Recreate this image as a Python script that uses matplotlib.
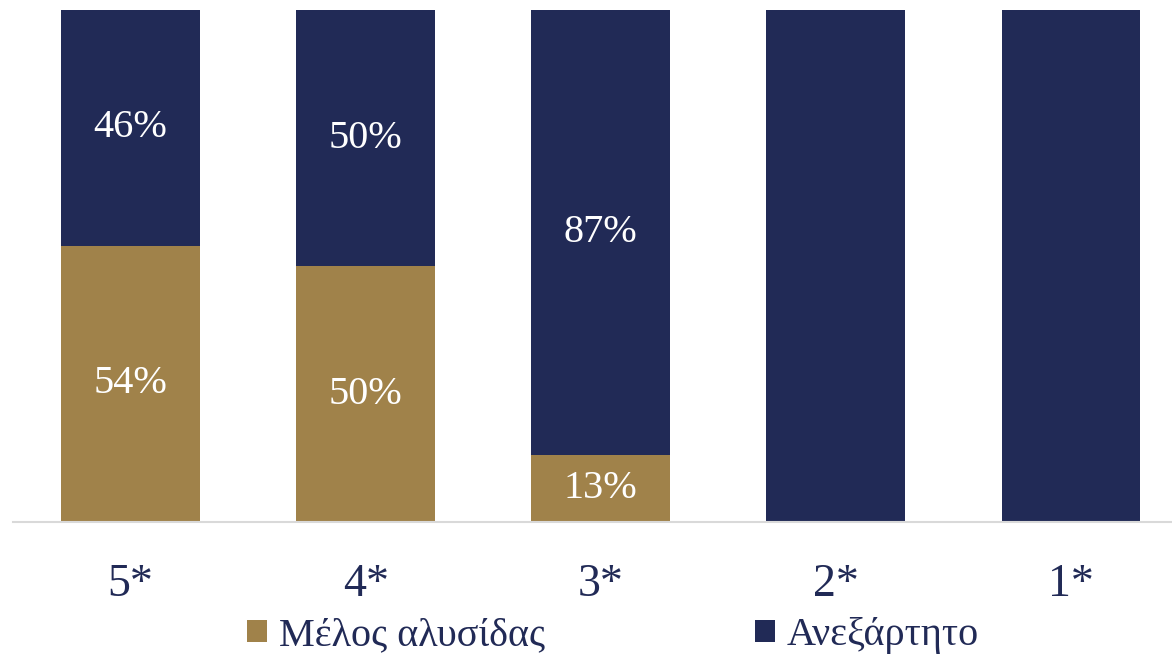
import matplotlib.pyplot as plt
import numpy as np

categories = ["5*", "4*", "3*", "2*", "1*"]
chain = [54, 50, 13, 0, 0]
independent = [46, 50, 87, 100, 100]
series_names = ["Μέλος αλυσίδας", "Ανεξάρτητο"]

gold = "#A0824A"
navy = "#212A56"

plt.rcParams['font.family'] = ['Liberation Serif', 'DejaVu Serif']

fig = plt.figure(figsize=(11.72, 6.57), dpi=100)
ax = fig.add_axes([13 / 1172, 135 / 657, 1159 / 1172, 512 / 657])

x = np.arange(len(categories))
width = 0.59
b1 = ax.bar(x, chain, width, color=gold, label=series_names[0])
b2 = ax.bar(x, independent, width, bottom=chain, color=navy, label=series_names[1])

for bars, vals, bottoms in [(b1, chain, [0] * 5), (b2, independent, chain)]:
    for rect, v, b in zip(bars, vals, bottoms):
        if 0 < v < 100:
            ax.text(rect.get_x() + rect.get_width() / 2, b + v / 2, f"{v}%",
                    ha='center', va='center', color='white', fontsize=29)

ax.set_xlim(-0.5, 4.43)
ax.set_ylim(0, 100)
ax.set_yticks([])
ax.set_xticks(x)
ax.set_xticklabels(categories, fontsize=33, color=navy)
ax.tick_params(axis='x', length=0, pad=30)
for s in ['top', 'right', 'left']:
    ax.spines[s].set_visible(False)
ax.spines['bottom'].set_color('#D9D9D9')
ax.spines['bottom'].set_linewidth(1.5)

fig.legend(loc='center', bbox_to_anchor=(0.523, 0.032), ncol=2, frameon=False,
           fontsize=29, labelcolor=navy, handlelength=0.5, handleheight=0.45,
           handletextpad=0.3, columnspacing=5.2)

fig.savefig("out.png", dpi=100)
